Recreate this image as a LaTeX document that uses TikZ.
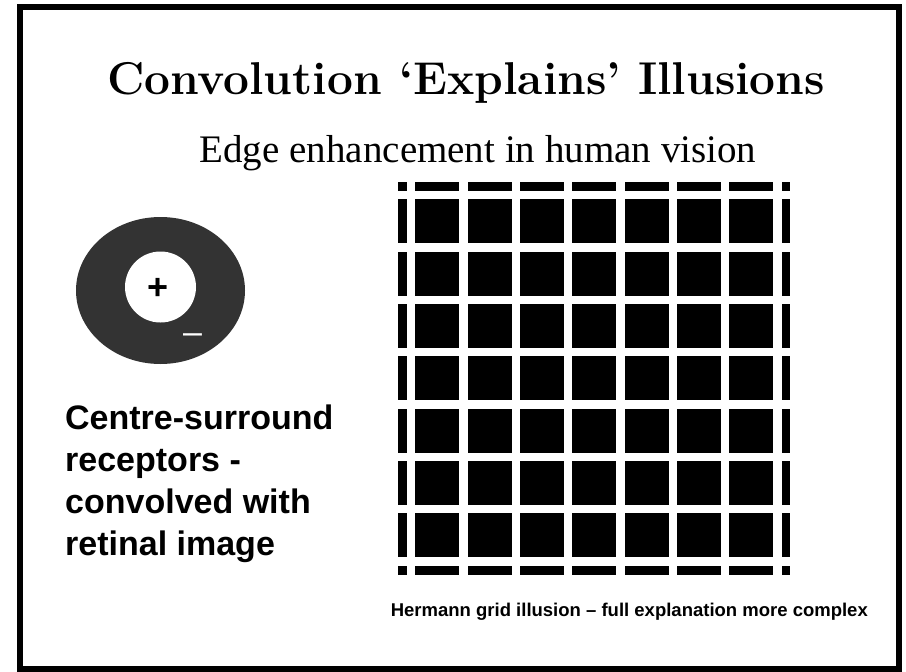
\documentclass[tikz,border=0pt]{standalone}
\usepackage{fontspec}
\newfontfamily\arialfont{Liberation Sans}
\newfontfamily\timesfont{Liberation Serif}
\usetikzlibrary{positioning}
\definecolor{surround}{HTML}{333333}

\begin{document}
\begin{tikzpicture}[x=1pt, y=-1pt,
  headline/.style={font=\bfseries\fontsize{46}{50}\selectfont, anchor=base, inner sep=0},
  subline/.style={font=\timesfont\fontsize{39}{44}\selectfont, anchor=base, inner sep=0},
  bodytext/.style={font=\arialfont\bfseries\fontsize{34}{41.7}\selectfont, inner sep=0},
  sign/.style={font=\arialfont\bfseries\fontsize{36}{38}\selectfont, inner sep=0}]
  \useasboundingbox (0,0) rectangle (906,672);
  % Frame
  \draw[line width=6pt] (20,7) rectangle (899,669);
  % Headings
  \node[headline] (title) at (466,94) {Convolution `Explains' Illusions};
  \node[subline] (subtitle) at (478,162) {Edge enhancement in human vision};
  % Centre-surround receptor
  \fill[surround] (160.5,290.5) ellipse [x radius=84.5, y radius=73.5];
  \fill[white] (160.5,287) circle [radius=35.5];
  \node[sign] (plus) at (158,289) {+};
  \node[sign, font=\arialfont\fontsize{34}{36}\selectfont, white] (minus) at (192.5,339) {–};
  \node[bodytext, anchor=base west, align=left] (receptors) at (65,555)
    {Centre-surround\\receptors -\\convolved with\\retinal image};
  % Hermann grid
  \fill (398,182) rectangle (790,575);
  \foreach \k in {0,...,7} {
    \fill[white] ({407+52.33*\k},182) rectangle ++(8.4,393);
    \fill[white] (398,{191+52.33*\k}) rectangle ++(392,8.4);
  }
  \node[bodytext, font=\arialfont\bfseries\fontsize{18.5}{20}\selectfont, anchor=base east] (note)
    at (868,616) {Hermann grid illusion – full explanation more complex};
\end{tikzpicture}
\end{document}
